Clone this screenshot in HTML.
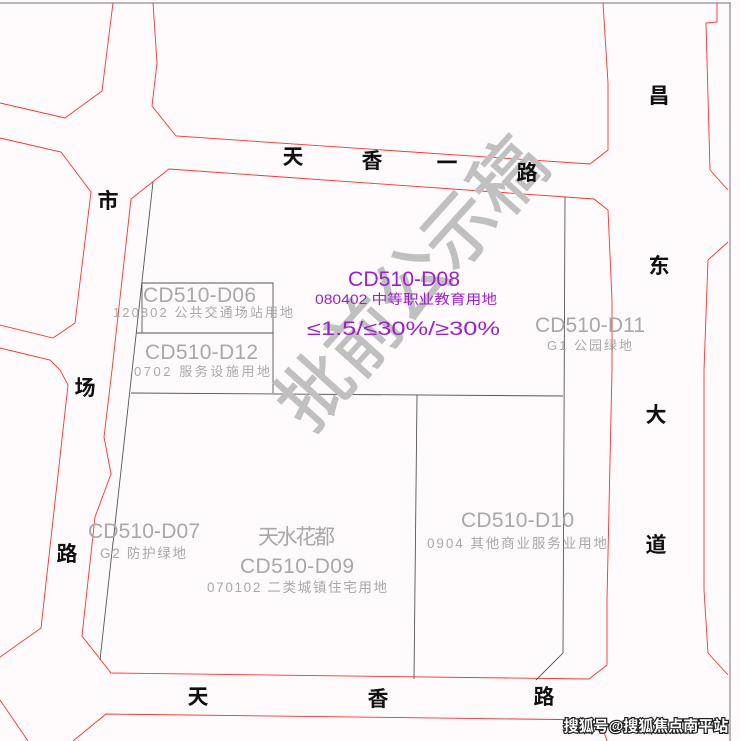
<!DOCTYPE html>
<html><head><meta charset="utf-8"><style>
html,body{margin:0;padding:0;background:#fffbfd;}
svg{display:block}
text{font-family:"Liberation Sans","Noto Sans CJK SC",sans-serif;}
</style></head><body>
<svg width="740" height="741" viewBox="0 0 740 741" xmlns="http://www.w3.org/2000/svg">
<rect width="740" height="741" fill="#fffbfd"/>
<line x1="0" y1="3" x2="731" y2="3" stroke="#a0a0a0" stroke-width="1.5"/>
<line x1="730" y1="3" x2="730" y2="741" stroke="#a0a0a0" stroke-width="1.5"/>
<g fill="none" stroke="#ff3030" stroke-width="0.9">
<polyline points="0,103 65,118 102,91 113,3"/>
<polyline points="153,3 157,63 152,106 176,136 590,164 608,150 608,83 603,3"/>
<polyline points="0,138 61,152 91,192 75,323 53,338 0,325"/>
<polyline points="0,348 50,360 60,370 68,385 41,628 0,657"/>
<polyline points="169,169 131,199 112,370 104,437 111,474 95,517 82,636 111,673 589,679 607,665 607,600 612,370 612,300 608,210 594,199 169,169"/>
<polyline points="0,700 28,741"/>
<polyline points="73,741 106,714 600,720 607,741"/>
<polyline points="717,3 717,22 706,23 710,170 728,190"/>
<polyline points="728,242 708,260 704,370 704,590 708,653 728,675"/>
</g>
<g fill="none" stroke="#555" stroke-width="0.9">
<line x1="153" y1="182" x2="100" y2="660"/>
<polyline points="142,333 142,283 273,283 273,393"/>
<line x1="136" y1="333" x2="273" y2="333"/>
<line x1="131" y1="393" x2="563" y2="396"/>
<polyline points="565,197 563,653 536,680"/>
<line x1="417" y1="395" x2="414" y2="679"/>
</g>
<g fill="#c0c0c0" stroke="#c0c0c0" stroke-width="1.2" transform="translate(410,282) rotate(-48)">
<text x="0" y="28" text-anchor="middle" textLength="360" lengthAdjust="spacingAndGlyphs" font-size="74">批前公示稿</text>
</g>
<g font-size="21" font-weight="bold" fill="#111" text-anchor="middle">
<text x="293" y="164">天</text><text x="372" y="168">香</text><text x="447" y="170">一</text><text x="527" y="180">路</text>
<text x="108" y="208">市</text><text x="85" y="395">场</text><text x="67" y="561">路</text>
<text x="198" y="704">天</text><text x="378" y="706">香</text><text x="544" y="704">路</text>
<text x="659" y="103">昌</text><text x="659" y="273">东</text><text x="656" y="422">大</text><text x="656" y="552">道</text>
</g>
<g fill="#a8a8a8" lengthAdjust="spacingAndGlyphs">
<text x="143" y="302" font-size="21" textLength="113">CD510-D06</text>
<text x="113" y="317" font-size="13" textLength="180">120802 公共交通场站用地</text>
<text x="145" y="359" font-size="21" textLength="113">CD510-D12</text>
<text x="134" y="376" font-size="13" textLength="136">0702 服务设施用地</text>
<text x="535" y="332" font-size="21" textLength="110">CD510-D11</text>
<text x="547" y="350" font-size="13" textLength="85">G1 公园绿地</text>
<text x="88" y="538" font-size="21" textLength="112">CD510-D07</text>
<text x="100" y="558" font-size="13.5" textLength="86">G2 防护绿地</text>
<text x="258" y="544" font-size="21" textLength="77">天水花都</text>
<text x="240" y="573" font-size="21" textLength="114">CD510-D09</text>
<text x="207" y="592" font-size="13.5" textLength="180">070102 二类城镇住宅用地</text>
<text x="461" y="527" font-size="21" textLength="113">CD510-D10</text>
<text x="427" y="548" font-size="13.5" textLength="180">0904 其他商业服务业用地</text>
</g>
<g fill="#9b1fd0">
<text x="348" y="286" font-size="21" textLength="112" lengthAdjust="spacingAndGlyphs">CD510-D08</text>
<text x="315" y="304" font-size="13.5" textLength="182" lengthAdjust="spacingAndGlyphs">080402 中等职业教育用地</text>
<text x="307" y="335" font-size="19" textLength="193" lengthAdjust="spacingAndGlyphs">≤1.5/≤30%/≥30%</text>
</g>
<text x="646" y="731" font-size="15" font-weight="bold" fill="#fff" stroke="#222" stroke-width="2.5" paint-order="stroke" text-anchor="middle">搜狐号@搜狐焦点南平站</text>
</svg>
</body></html>
